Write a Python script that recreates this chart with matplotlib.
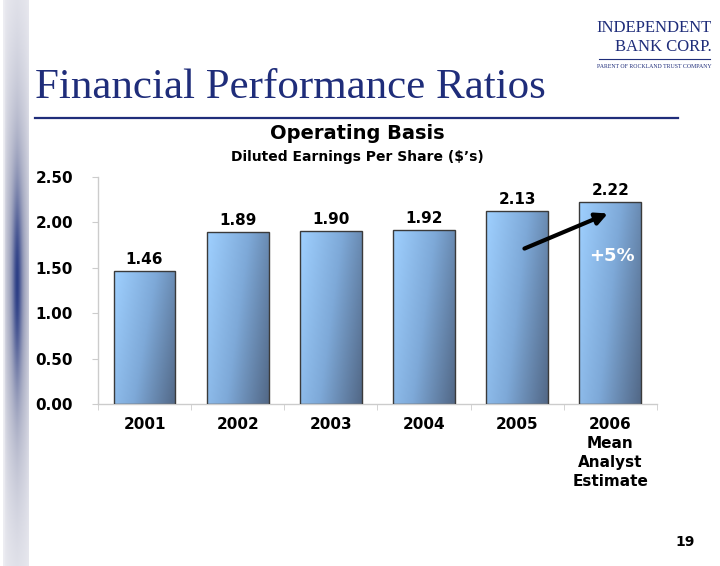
import numpy as np
import matplotlib
matplotlib.use("Agg")
import matplotlib.pyplot as plt
from matplotlib.colors import LinearSegmentedColormap

# --- data ---
years = ["2001", "2002", "2003", "2004", "2005", "2006\nMean\nAnalyst\nEstimate"]
eps = [1.46, 1.89, 1.90, 1.92, 2.13, 2.22]
value_labels = ["1.46", "1.89", "1.90", "1.92", "2.13", "2.22"]
y_ticks = [0.0, 0.5, 1.0, 1.5, 2.0, 2.5]
growth_label = "+5%"

navy = "#1f2d7a"
bar_cmap = LinearSegmentedColormap.from_list("bar", ["#9fd0ff", "#7ea9d8", "#526887"])

fig = plt.figure(figsize=(7.2, 5.66), dpi=100)
fig.patch.set_facecolor("white")

# left decorative strip
strip = fig.add_axes([0.004, 0.0, 0.036, 1.0])
yy = np.linspace(0, 1, 300)
xx = np.linspace(0, 1, 40)
base_y = np.exp(-((yy - 0.50) / 0.36) ** 2)
core_y = np.exp(-((yy - 0.50) / 0.16) ** 2)
base_x = np.clip(1 - np.abs(xx - 0.55) / 0.5, 0, 1) ** 0.4
core_x = np.exp(-((xx - 0.55) / 0.18) ** 2)
base = np.outer(base_y, base_x)
core = np.outer(core_y, core_x)
light = np.array([0.93, 0.93, 0.95])
mid = np.array([0.56, 0.58, 0.69])
dark = np.array([0.17, 0.24, 0.52])
img = np.zeros((300, 40, 3))
for c in range(3):
    img[:, :, c] = light[c] + (mid[c] - light[c]) * base + (dark[c] - mid[c]) * core
strip.imshow(np.clip(img, 0, 1), aspect="auto", extent=[0, 1, 0, 1], origin="lower")
strip.axis("off")

# header texts
fig.text(0.048, 0.827, "Financial Performance Ratios", family="Liberation Serif",
         fontsize=31, color=navy, ha="left", va="baseline")
fig.text(0.908, 0.950, "INDEPENDENT", family="Liberation Serif", fontsize=12,
         color=navy, ha="center", va="center")
fig.text(0.922, 0.917, "BANK CORP.", family="Liberation Serif", fontsize=12,
         color=navy, ha="center", va="center")
fig.add_artist(plt.Line2D([0.832, 0.986], [0.896, 0.896], color=navy, lw=0.8))
fig.text(0.909, 0.882, "PARENT OF ROCKLAND TRUST COMPANY", family="Liberation Serif",
         fontsize=4.2, color=navy, ha="center", va="center")
fig.add_artist(plt.Line2D([0.049, 0.942], [0.792, 0.792], color=navy, lw=1.6))

fig.text(0.496, 0.765, "Operating Basis", fontsize=14, fontweight="bold",
         ha="center", va="center")
fig.text(0.496, 0.722, "Diluted Earnings Per Share ($\u2019s)", fontsize=10,
         fontweight="bold", ha="center", va="center")
fig.text(0.951, 0.043, "19", fontsize=10, fontweight="bold", ha="center", va="center")

# chart
ax = fig.add_axes([0.136, 0.2862, 0.7765, 0.4011])
x = np.arange(len(years))
bars = ax.bar(x, eps, width=0.665, facecolor="none", edgecolor="#3a3a3a",
              linewidth=1.0, zorder=3)
u = np.linspace(0, 1, 60)
v = np.linspace(0, 1, 120)
U, V = np.meshgrid(u, v)
grad = 0.72 * U + 0.28 * (1 - V)
for b, lab in zip(bars, value_labels):
    x0, w, h = b.get_x(), b.get_width(), b.get_height()
    im = ax.imshow(grad, extent=[x0, x0 + w, 0, h], origin="lower", cmap=bar_cmap,
                   vmin=0, vmax=1, aspect="auto", zorder=2)
    im.set_clip_path(b)
    ax.text(x0 + w / 2, h + 0.045, lab, ha="center", va="bottom",
            fontsize=11, fontweight="bold")

ax.set_xlim(-0.5, len(years) - 0.5)
ax.set_ylim(0, 2.5)
ax.set_yticks(y_ticks)
ax.set_yticklabels([f"{t:.2f}" for t in y_ticks], fontsize=11, fontweight="bold")
ax.set_xticks(x)
ax.set_xticklabels(years, fontsize=11, fontweight="bold", va="top", linespacing=1.35)
ax.set_xticks(np.arange(len(years) + 1) - 0.5, minor=True)
ax.tick_params(axis="x", which="major", length=0, pad=9)
ax.tick_params(axis="x", which="minor", length=4, color="#cccccc", direction="out")
ax.tick_params(axis="y", length=4, color="#cccccc", pad=14)
for s in ["top", "right"]:
    ax.spines[s].set_visible(False)
for s in ["left", "bottom"]:
    ax.spines[s].set_color("#cccccc")
    ax.spines[s].set_linewidth(1.0)

# growth arrow
ax.annotate("", xy=(5.0, 2.11), xytext=(4.05, 1.70),
            arrowprops=dict(arrowstyle="-|>,head_length=0.7,head_width=0.35",
                            color="black", lw=3), zorder=5)
ax.text(5.02, 1.63, growth_label, color="white", fontsize=13, fontweight="bold",
        ha="center", va="center", zorder=5)

fig.savefig("out.png", dpi=100, facecolor="white")
